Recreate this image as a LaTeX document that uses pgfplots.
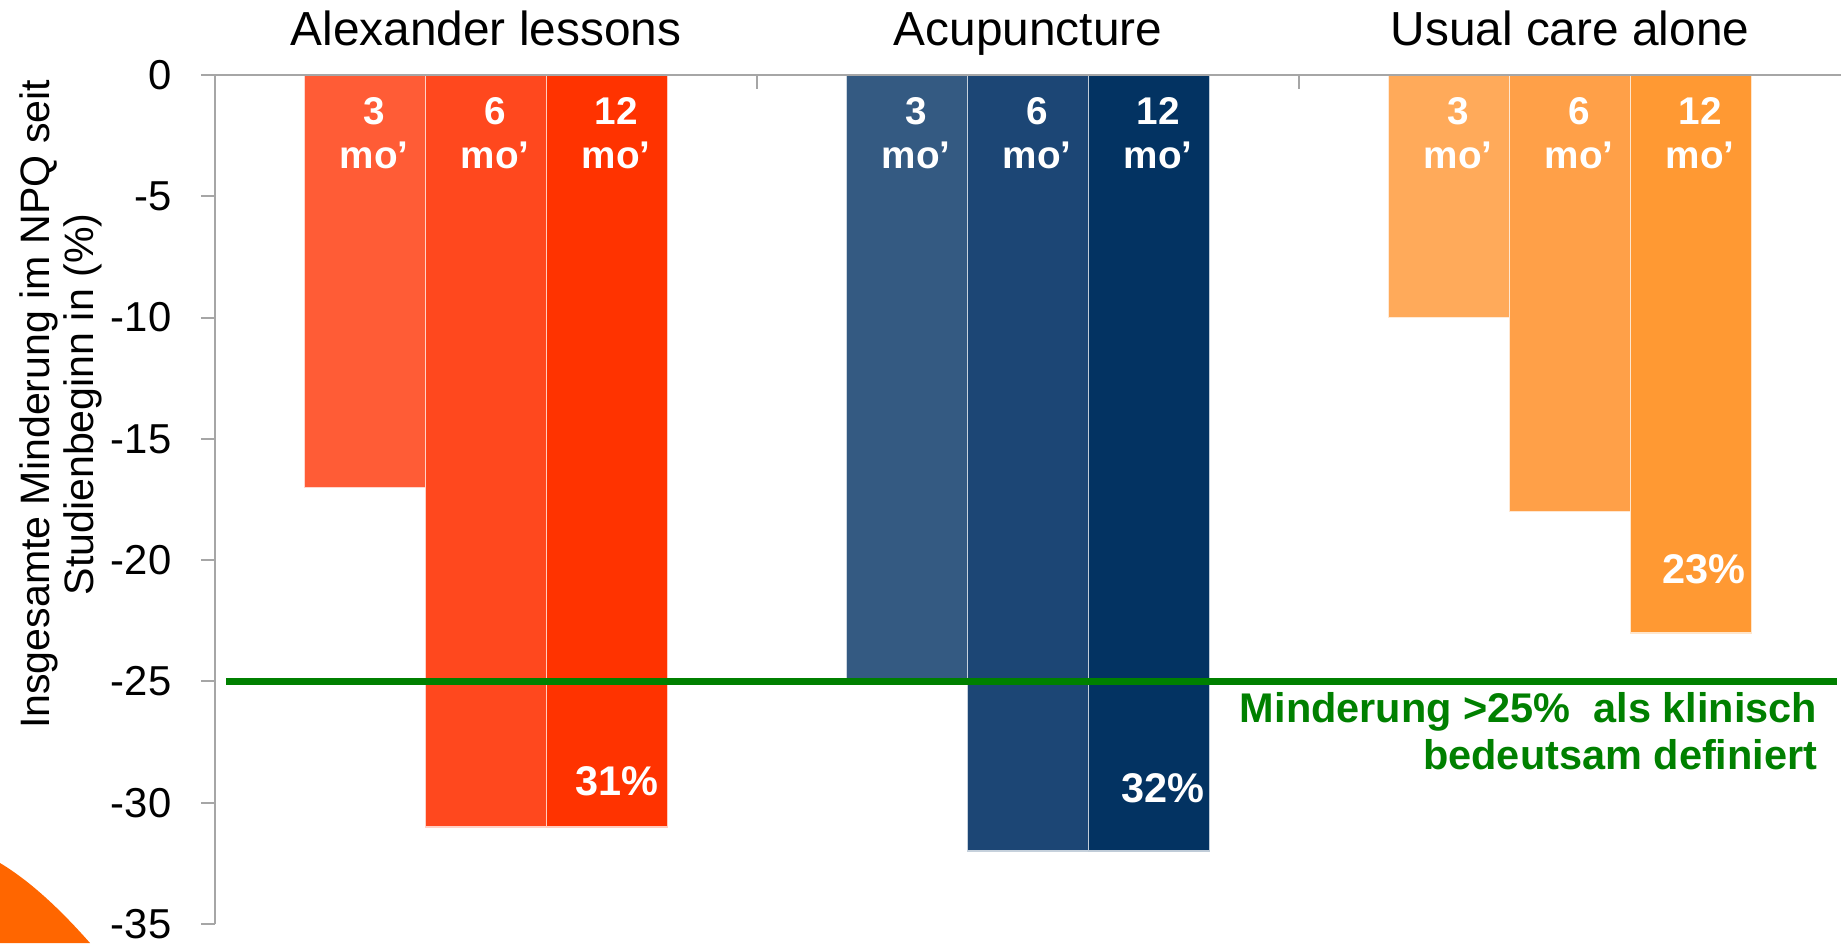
\documentclass[border=0pt]{standalone}
\usepackage{fontspec}
\setmainfont{Liberation Sans}
\usepackage{graphicx}
\usepackage{pgfplots}
\pgfplotsset{compat=1.18}
\definecolor{a1}{HTML}{FF5C36}
\definecolor{a2}{HTML}{FF481E}
\definecolor{a3}{HTML}{FF3300}
\definecolor{b1}{HTML}{345A82}
\definecolor{b2}{HTML}{1C4675}
\definecolor{b3}{HTML}{033362}
\definecolor{c1}{HTML}{FFAA5A}
\definecolor{c2}{HTML}{FFA048}
\definecolor{c3}{HTML}{FF9933}
\definecolor{grn}{HTML}{008000}
\definecolor{axgray}{HTML}{A6A6A6}
\definecolor{deco}{HTML}{FF6600}
\tikzset{
  lbl/.style={anchor=base, text=white, inner sep=0pt, font=\bfseries\fontsize{11}{13}\selectfont},
  pct/.style={anchor=base east, text=white, inner sep=0pt, font=\bfseries\fontsize{11.8}{14}\selectfont},
  gtxt/.style={anchor=base east, text=grn, inner sep=0pt, font=\bfseries\fontsize{11.8}{14}\selectfont},
  ttl/.style={anchor=base, inner sep=0pt, yshift=3mm, font=\fontsize{13.6}{16}\selectfont},
}
\newcommand{\barlbl}[2]{%
  \node[lbl] at (axis cs:#1,-2.02) {#2};
  \node[lbl] at (axis cs:#1,-3.87) {mo’};
}
\begin{document}
\begin{tikzpicture}
\useasboundingbox (0,0) rectangle (184.1mm,94.3mm);
\fill[deco] (0,8mm) .. controls (3mm,6.2mm) and (6mm,3.4mm) .. (9mm,0) -- (0,0) -- cycle;
\begin{axis}[
  scale only axis, width=162.6mm, height=84.9mm,
  anchor=south west, at={(21.5mm,1.9mm)},
  xmin=-0.5, xmax=2.5, ymin=-35, ymax=0,
  axis x line*=top, axis y line*=left,
  axis line style={axgray, line width=0.2mm},
  xtick=\empty,
  ytick={-35,-30,...,0},
  yticklabels={-35,-30,-25,-20,-15,-10,-5,0},
  tick align=outside,
  major tick length=1.4mm,
  ytick style={axgray, line width=0.2mm},
  yticklabel style={font=\fontsize{11.9}{14}\selectfont, inner sep=0pt, xshift=-2.9mm},
  clip=false,
  axis on top,
  bar width=0.2232,
]
% Alexander lessons
\addplot[ybar, bar shift=0pt, fill=a1, draw=a1!25, line width=0.15mm] coordinates {(-0.2232,-17)};
\addplot[ybar, bar shift=0pt, fill=a2, draw=a2!25, line width=0.15mm] coordinates {(0,-31)};
\addplot[ybar, bar shift=0pt, fill=a3, draw=a3!25, line width=0.15mm] coordinates {(0.2232,-31)};
% Acupuncture
\addplot[ybar, bar shift=0pt, fill=b1, draw=b1!25, line width=0.15mm] coordinates {(0.7768,-25)};
\addplot[ybar, bar shift=0pt, fill=b2, draw=b2!25, line width=0.15mm] coordinates {(1,-32)};
\addplot[ybar, bar shift=0pt, fill=b3, draw=b3!25, line width=0.15mm] coordinates {(1.2232,-32)};
% Usual care alone
\addplot[ybar, bar shift=0pt, fill=c1, draw=c1!25, line width=0.15mm] coordinates {(1.7768,-10)};
\addplot[ybar, bar shift=0pt, fill=c2, draw=c2!25, line width=0.15mm] coordinates {(2,-18)};
\addplot[ybar, bar shift=0pt, fill=c3, draw=c3!25, line width=0.15mm] coordinates {(2.2232,-23)};
% threshold
\addplot[grn, line width=0.65mm] coordinates {(-0.4797,-25) (2.4926,-25)};
% separators
\draw[axgray, line width=0.2mm] (axis cs:0.5,0) -- ([yshift=-1.4mm]axis cs:0.5,0);
\draw[axgray, line width=0.2mm] (axis cs:1.5,0) -- ([yshift=-1.4mm]axis cs:1.5,0);
% titles
\node[ttl] at (axis cs:0,0) {Alexander lessons};
\node[ttl] at (axis cs:1,0) {Acupuncture};
\node[ttl] at (axis cs:2,0) {Usual care alone};
% bar labels
\barlbl{-0.2062}{3}
\barlbl{0.017}{6}
\barlbl{0.2402}{12}
\barlbl{0.7938}{3}
\barlbl{1.017}{6}
\barlbl{1.2402}{12}
\barlbl{1.7938}{3}
\barlbl{2.017}{6}
\barlbl{2.2402}{12}
% percentages
\node[pct] at (axis cs:0.319,-29.72) {31\%};
\node[pct] at (axis cs:1.327,-30.01) {32\%};
\node[pct] at (axis cs:2.325,-20.95) {23\%};
% green text
\node[gtxt] at (axis cs:2.4576,-26.68) {Minderung >25\%\ \ als klinisch};
\node[gtxt] at (axis cs:2.4576,-28.61) {bedeutsam definiert};
% y label
\node[rotate=90, align=center, inner sep=0pt, font=\fontsize{11.7}{12.5}\selectfont]
  at ([xshift=-15.4mm]rel axis cs:0,0.612) {Insgesamte Minderung im NPQ seit\\Studienbeginn in (\%)};
\end{axis}
\end{tikzpicture}
\end{document}
